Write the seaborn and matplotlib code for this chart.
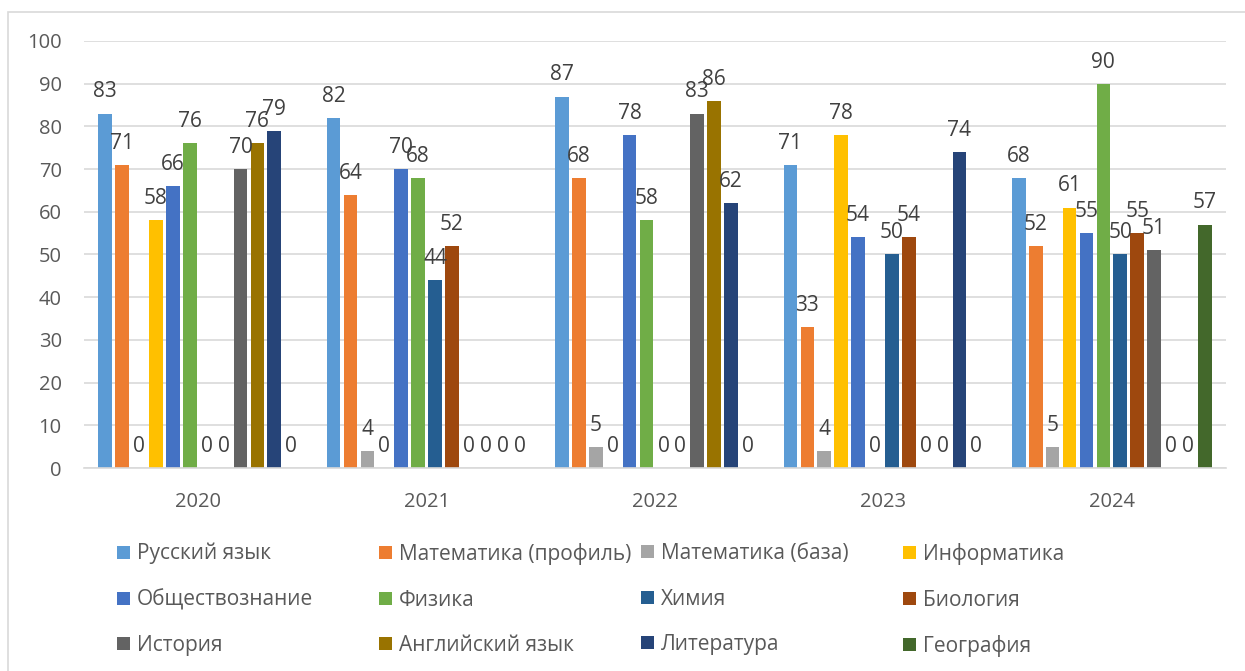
import pandas as pd
import seaborn as sns
import matplotlib.pyplot as plt
from matplotlib.patches import Patch, Rectangle

years = ["2020", "2021", "2022", "2023", "2024"]
subjects = ["Русский язык", "Математика (профиль)", "Математика (база)", "Информатика",
            "Обществознание", "Физика", "Химия", "Биология",
            "История", "Английский язык", "Литература", "География"]
scores = {
    "Русский язык":         [83, 82, 87, 71, 68],
    "Математика (профиль)": [71, 64, 68, 33, 52],
    "Математика (база)":    [0, 4, 5, 4, 5],
    "Информатика":          [58, 0, 0, 78, 61],
    "Обществознание":       [66, 70, 78, 54, 55],
    "Физика":               [76, 68, 58, 0, 90],
    "Химия":                [0, 44, 0, 50, 50],
    "Биология":             [0, 52, 0, 54, 55],
    "История":              [70, 0, 83, 0, 51],
    "Английский язык":      [76, 0, 86, 0, 0],
    "Литература":           [79, 0, 62, 74, 0],
    "География":            [0, 0, 0, 0, 57],
}
colors = ["#5B9BD5", "#ED7D31", "#A5A5A5", "#FFC000", "#4472C4", "#70AD47",
          "#255E91", "#9E480E", "#636363", "#997300", "#264478", "#43682B"]

rows = [(y, s, scores[s][i]) for s in subjects for i, y in enumerate(years)]
df = pd.DataFrame(rows, columns=["year", "subject", "score"])

sns.set_style("white")
plt.rcParams["font.family"] = ["Open Sans", "DejaVu Sans"]
txt = "#595959"

fig = plt.figure(figsize=(12.45, 6.71), dpi=100)
ax = fig.add_axes([84 / 1245, 1 - 468 / 671, 1142 / 1245, 427 / 671])

sns.barplot(data=df, x="year", y="score", hue="subject", hue_order=subjects, order=years,
            palette=colors, saturation=1, width=0.888, gap=0.2, errorbar=None,
            linewidth=0, legend=False, ax=ax)

for c in ax.containers:
    ax.bar_label(c, padding=8, fontsize=15, color="#404040")

ax.set_ylim(0, 100)
ax.set_xlim(-0.5, 4.5)
ax.set_yticks(range(0, 101, 10))
ax.yaxis.grid(True, color="#d9d9d9", linewidth=1.2)
ax.set_axisbelow(True)
for side in ["left", "right", "top"]:
    ax.spines[side].set_visible(False)
ax.spines["bottom"].set_color("#d9d9d9")
ax.spines["bottom"].set_linewidth(1.2)
ax.tick_params(axis="y", length=0, pad=16, labelsize=14.5, labelcolor=txt)
ax.tick_params(axis="x", length=0, pad=17, labelsize=14.5, labelcolor=txt)
ax.set_xlabel("")
ax.set_ylabel("")

# legend: four columns, three rows, filled row by row
col_x = [117, 379, 641, 903]
for j in range(4):
    idx = [j, j + 4, j + 8]
    handles = [Patch(facecolor=colors[k], edgecolor="none") for k in idx]
    fig.legend(handles, [subjects[k] for k in idx], loc="upper left",
               bbox_to_anchor=(col_x[j] / 1245, 1 - 543 / 671), frameon=False,
               fontsize=15, labelcolor=txt, handlelength=0.6, handleheight=0.6,
               handletextpad=0.35, labelspacing=1.18, borderpad=0, borderaxespad=0)

fig.patches.append(Rectangle((8 / 1245, -0.1), 1.2, 1 - 12 / 671 + 0.1,
                             transform=fig.transFigure, fill=False,
                             edgecolor="#d9d9d9", linewidth=1.2))

fig.savefig("out.png", dpi=100)
